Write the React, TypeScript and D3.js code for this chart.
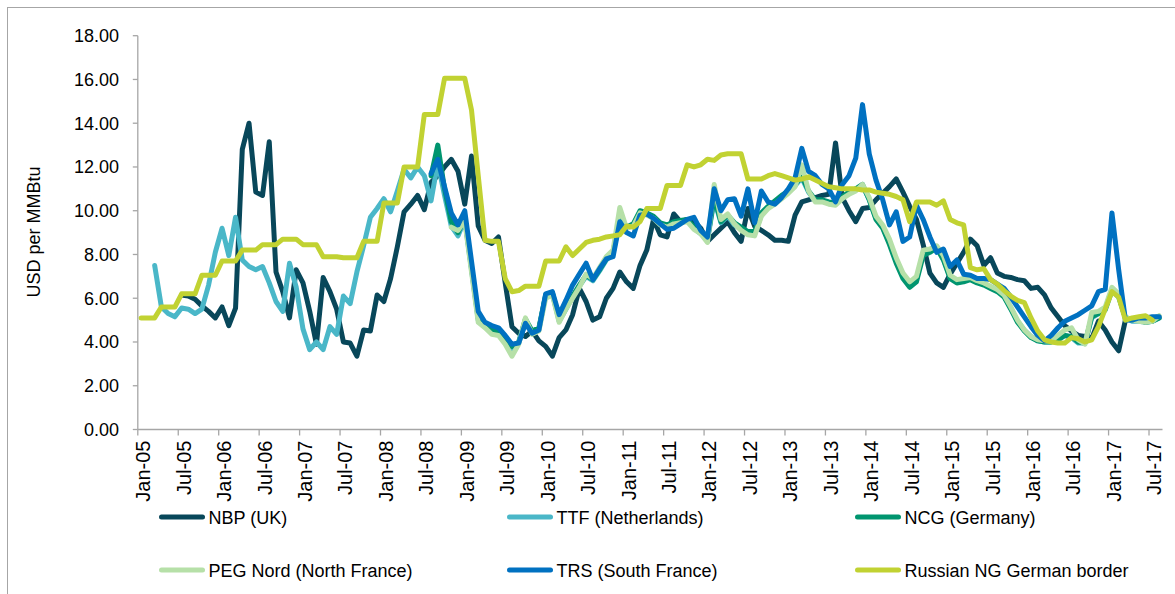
import React from "react";
import * as d3 from "d3";

// Monthly categories Jan-05 .. Aug-17 (152 months)
const categories: Date[] = d3.timeMonth.range(new Date(2005, 0, 1), new Date(2017, 8, 1));

const xTickLabels = [
  "Jan-05", "Jul-05", "Jan-06", "Jul-06", "Jan-07", "Jul-07", "Jan-08", "Jul-08",
  "Jan-09", "Jul-09", "Jan-10", "Jul-10", "Jan-11", "Jul-11", "Jan-12", "Jul-12",
  "Jan-13", "Jul-13", "Jan-14", "Jul-14", "Jan-15", "Jul-15", "Jan-16", "Jul-16",
  "Jan-17", "Jul-17",
];
const yTicks = [0, 2, 4, 6, 8, 10, 12, 14, 16, 18];
const yTitle = "USD per MMBtu";

const N = null;

const nbp = [
  N, N, N, N, N, N, 6.15, 6.1, 5.95, 5.65, 5.4, 5.1,
  5.6, 4.75, 5.55, 12.8, 14.0, 10.85, 10.7, 13.15, 7.2, 6.3, 5.1, 7.3,
  6.7, 5.4, 3.9, 6.95, 6.3, 5.5, 4.0, 3.95, 3.35, 4.55, 4.5, 6.15,
  5.85, 6.9, 8.35, 9.95, 10.3, 10.7, 10.05, 11.3, 11.6, 12.0, 12.35, 11.8,
  10.3, 12.5, 9.3, 8.65, 8.5, 8.8, 6.7, 4.7, 4.4, 4.25, 4.5, 4.05,
  3.8, 3.35, 4.2, 4.55, 5.25, 6.45, 5.85, 5.0, 5.15, 6.0, 6.45, 7.2,
  6.75, 6.45, 7.5, 8.2, 9.6, 8.9, 8.8, 9.85, 9.5, 9.6, 9.5, 9.2,
  8.6, 8.9, 9.2, 9.5, 9.0, 8.6, 10.1, 9.3, 9.1, 8.9, 8.65, 8.65,
  8.6, 9.8, 10.4, 10.5, 10.6, 10.7, 10.75, 13.1, 10.6, 10.0, 9.5, 10.1,
  10.15, 10.5, 10.8, 11.1, 11.45, 10.85, 10.2, 9.6, 8.45, 7.15, 6.7, 6.5,
  7.1, 7.6, 8.1, 8.7, 8.4, 7.5, 7.85, 7.15, 7.0, 6.95, 6.85, 6.8,
  6.45, 6.5, 6.15, 5.55, 5.15, 4.75, 4.5, 4.3, 4.25, 4.15, 4.95, 4.55,
  4.0, 3.6, 5.0, 5.05, 5.05, 5.0, 5.1, 5.15,
];

const ttf = [
  N, N, 7.5, 5.6, 5.3, 5.15, 5.55, 5.5, 5.3, 5.5, 6.6, 8.1,
  9.2, 7.95, 9.7, 7.75, 7.45, 7.3, 7.45, 6.7, 5.85, 5.4, 7.6, 6.5,
  4.6, 3.65, 4.0, 3.65, 4.7, 4.35, 6.1, 5.75, 7.2, 8.4, 9.7, 10.1,
  10.55, 9.95, 10.9, 11.9, 11.5, 12.0, 11.6, 10.45, 12.2, 10.7, 9.3, 8.85,
  9.6, 7.3, 5.0, 4.8, 4.5, 4.45, 4.15, 3.7, 3.95, 4.95, 4.45, 4.6,
  6.1, 6.2, 4.95, 5.5, 6.05, 6.55, 7.0, 6.8, 7.25, 7.75, 8.05, 9.6,
  9.2, 9.35, 9.95, 9.85, 9.7, 9.4, 9.3, 9.45, 9.5, 9.55, 9.2, 8.95,
  8.65, 10.5, 9.45, 9.75, 9.35, 9.15, 8.95, 8.95, 9.8, 10.15, 10.35, 10.6,
  10.85, 11.15, 11.5, 10.85, 10.45, 10.45, 10.35, 10.3, 10.6, 10.8, 10.95, 11.15,
  10.5, 9.65, 9.25, 8.55, 7.7, 7.0, 6.6, 6.85, 8.05, 8.15, 8.35, 7.8,
  6.95, 6.75, 6.8, 6.9, 6.75, 6.65, 6.5, 6.35, 6.1, 5.55, 4.95, 4.55,
  4.25, 4.05, 4.0, 4.0, 4.1, 4.3, 4.2, 3.95, 3.95, 5.1, 5.3, 5.45,
  6.35, 6.05, 5.1, 4.95, 4.95, 4.9, 4.95, 5.1,
];

const ncg = [
  N, N, N, N, N, N, N, N, N, N, N, N,
  N, N, N, N, N, N, N, N, N, N, N, N,
  N, N, N, N, N, N, N, N, N, N, N, N,
  N, N, N, N, N, N, N, 11.6, 13.0, 11.0, 9.5, 9.0,
  9.7, 7.4, 5.1, 4.85, 4.55, 4.5, 4.2, 3.8, 4.0, 5.05, 4.5, 4.65,
  6.15, 6.25, 5.05, 5.55, 6.1, 6.6, 7.05, 6.85, 7.3, 7.8, 8.1, 9.7,
  9.25, 9.4, 10.0, 9.9, 9.75, 9.45, 9.35, 9.5, 9.55, 9.6, 9.25, 9.0,
  8.7, 10.6, 9.5, 9.8, 9.45, 9.25, 9.05, 9.05, 9.9, 10.2, 10.45, 10.7,
  10.9, 11.2, 11.6, 10.9, 10.5, 10.5, 10.4, 10.35, 10.65, 10.85, 11.0, 11.2,
  10.5, 9.6, 9.2, 8.45, 7.6, 6.9, 6.5, 6.75, 7.95, 8.1, 8.3, 7.75,
  6.9, 6.7, 6.75, 6.85, 6.7, 6.6, 6.45, 6.3, 6.05, 5.5, 4.9, 4.5,
  4.2, 4.05, 4.0, 4.0, 4.1, 4.3, 4.25, 4.0, 3.95, 5.15, 5.3, 5.5,
  6.4, 6.1, 5.1, 5.0, 5.0, 4.9, 4.95, 5.1,
];

const peg = [
  N, N, N, N, N, N, N, N, N, N, N, N,
  N, N, N, N, N, N, N, N, N, N, N, N,
  N, N, N, N, N, N, N, N, N, N, N, N,
  N, N, N, N, N, N, N, N, N, N, 9.25, 9.1,
  9.55, 7.2, 4.9, 4.65, 4.35, 4.3, 3.9, 3.35, 3.9, 5.1, 4.35, 4.5,
  6.0, 6.15, 4.9, 5.5, 6.0, 6.5, 7.1, 6.9, 7.4, 7.9, 8.2, 10.15,
  9.2, 9.3, 9.9, 9.8, 9.65, 9.35, 9.25, 9.4, 9.45, 9.5, 9.15, 8.95,
  8.55, 11.2, 9.6, 9.85, 9.4, 9.1, 8.9, 8.85, 9.75, 10.1, 10.3, 10.55,
  10.8, 11.1, 12.1, 10.9, 10.4, 10.4, 10.3, 10.25, 10.55, 10.75, 10.9, 11.2,
  10.6, 9.75, 9.35, 8.7, 7.85, 7.15, 6.75, 7.0, 8.2, 8.25, 8.4, 7.95,
  7.05, 6.85, 6.9, 6.95, 6.8, 6.7, 6.55, 6.4, 6.15, 5.6, 5.0, 4.55,
  4.25, 4.1, 4.05, 4.05, 4.3, 4.55, 4.65, 4.1, 3.9, 5.35, 5.4, 5.6,
  6.5, 6.2, 5.15, 5.0, 4.95, 4.9, 4.95, 5.2,
];

const trs = [
  N, N, N, N, N, N, N, N, N, N, N, N,
  N, N, N, N, N, N, N, N, N, N, N, N,
  N, N, N, N, N, N, N, N, N, N, N, N,
  N, N, N, N, N, N, N, 11.7, 12.35, 11.1, 9.9, 9.35,
  10.0, 7.7, 5.4, 4.9, 4.75, 4.65, 4.3, 3.9, 3.95, 4.85, 4.4, 4.55,
  6.2, 6.3, 5.25, 5.9, 6.6, 7.1, 7.6, 6.85, 7.35, 7.8, 7.9, 9.5,
  9.0, 8.85, 9.8, 9.85, 9.65, 9.4, 9.15, 9.2, 9.4, 9.6, 9.7, 9.1,
  8.8, 11.0, 10.0, 10.5, 10.55, 9.75, 11.0, 9.45, 10.9, 10.4, 10.3, 10.6,
  11.0, 11.5, 12.85, 11.8, 11.6, 11.2, 11.0, 10.4, 11.2, 11.6, 12.4, 14.85,
  12.6, 11.4, 10.5, 9.35, 9.95, 8.6, 8.8, 10.25, 9.6, 8.8, 8.1, 8.25,
  7.45, 7.75, 7.1, 7.05, 6.9, 6.9, 6.85, 6.65, 6.45, 6.05, 5.6, 5.15,
  4.7, 4.3, 4.05, 4.3, 4.65, 4.95, 5.1, 5.25, 5.45, 5.65, 6.3, 6.4,
  9.9, 7.3, 5.0, 5.0, 5.1, 5.1, 5.15, 5.15,
];

const russian = [
  5.1, 5.1, 5.1, 5.6, 5.6, 5.6, 6.2, 6.2, 6.2, 7.05, 7.05, 7.05,
  7.7, 7.7, 7.7, 8.2, 8.2, 8.2, 8.45, 8.45, 8.45, 8.7, 8.7, 8.7,
  8.45, 8.45, 8.45, 7.9, 7.9, 7.9, 7.85, 7.85, 7.85, 8.6, 8.6, 8.6,
  10.35, 10.35, 10.35, 12.0, 12.0, 12.0, 14.4, 14.4, 14.4, 16.05, 16.05, 16.05,
  16.05, 14.6, 11.6, 8.65, 8.6, 8.6, 6.9, 6.3, 6.35, 6.55, 6.55, 6.55,
  7.7, 7.7, 7.7, 8.35, 7.95, 8.25, 8.55, 8.65, 8.7, 8.8, 8.85, 8.9,
  9.3, 9.25, 9.5, 10.1, 10.1, 10.1, 11.15, 11.15, 11.15, 12.1, 12.0, 12.1,
  12.35, 12.3, 12.55, 12.6, 12.6, 12.6, 11.45, 11.45, 11.45, 11.6, 11.7, 11.6,
  11.5, 11.4, 11.45, 11.55, 11.4, 11.25, 11.1, 11.05, 11.0, 11.0, 11.0, 10.95,
  10.95, 10.85, 10.8, 10.75, 10.65, 10.5, 9.5, 10.4, 10.4, 10.4, 10.25, 10.45,
  9.6, 9.45, 9.35, 7.4, 7.3, 7.35, 6.85, 6.65, 6.35, 6.1, 5.9, 5.8,
  5.1, 4.5, 4.1, 4.0, 3.95, 3.95, 4.2, 4.15, 4.0, 4.1, 4.7, 5.5,
  6.3, 6.05, 5.0, 5.1, 5.15, 5.2, 5.0, N,
];

const seriesNames = [
  "NBP (UK)",
  "TTF (Netherlands)",
  "NCG (Germany)",
  "PEG Nord (North France)",
  "TRS (South France)",
  "Russian NG German border",
];
const seriesColors = ["#08475a", "#4ab7c8", "#00956f", "#b6e0a8", "#0071c1", "#c1d232"];
const seriesData = [nbp, ttf, ncg, peg, trs, russian];

const FONT = "'Liberation Sans', Arial, sans-serif";

export default function App() {
  const W = 1175;
  const H = 594;
  const x0 = 137.8;
  const x1 = 1162.5;
  const yBase = 429.5;
  const yTop = 35.7;

  const x = d3
    .scaleBand<number>()
    .domain(d3.range(categories.length))
    .range([x0, x1])
    .padding(0);
  const bw = x.bandwidth();
  const y = d3.scaleLinear().domain([0, 18]).range([yBase, yTop]);

  const line = d3
    .line<number | null>()
    .defined((d) => d != null)
    .x((_d, i) => (x(i) as number) + bw / 2)
    .y((d) => y(d as number));

  const tickIdx = xTickLabels.map((_, k) => k * 6);

  const legendCols = [159, 507, 855];
  const legendRows = [517, 570];

  return (
    <svg
      width={W}
      height={H}
      style={{ position: "absolute", left: 0, top: 0, background: "#fff" }}
      fontFamily={FONT}
    >
      <rect x={7.5} y={7.5} width={1200} height={620} fill="#fff" stroke="#a6a6a6" strokeWidth={1} />

      {/* y axis */}
      <line x1={x0} x2={x0} y1={yTop} y2={yBase} stroke="#a6a6a6" strokeWidth={1.3} />
      {yTicks.map((t) => (
        <g key={t}>
          <line x1={x0 - 5} x2={x0} y1={y(t)} y2={y(t)} stroke="#a6a6a6" strokeWidth={1.3} />
          <text x={119} y={y(t) + 6.3} textAnchor="end" fontSize={18} fill="#000">
            {t.toFixed(2)}
          </text>
        </g>
      ))}
      <text
        transform={`translate(40, 232) rotate(-90)`}
        textAnchor="middle"
        fontSize={18}
        fill="#000"
      >
        {yTitle}
      </text>

      {/* x axis */}
      <line x1={x0} x2={x1} y1={yBase} y2={yBase} stroke="#a6a6a6" strokeWidth={1.3} />
      {tickIdx.map((k, j) => {
        const tx = x(k) as number;
        return (
          <g key={k}>
            <line x1={tx} x2={tx} y1={yBase} y2={yBase + 6} stroke="#a6a6a6" strokeWidth={1.3} />
            <text
              transform={`translate(${tx + bw / 2 + 9}, ${yBase + 11}) rotate(-90)`}
              textAnchor="end"
              fontSize={20}
              fill="#000"
            >
              {xTickLabels[j]}
            </text>
          </g>
        );
      })}

      {/* series */}
      {seriesData.map((s, si) => (
        <path
          key={si}
          d={line(s) || ""}
          fill="none"
          stroke={seriesColors[si]}
          strokeWidth={5}
          strokeLinejoin="round"
          strokeLinecap="round"
        />
      ))}

      {/* legend */}
      {seriesNames.map((name, si) => {
        const lx = legendCols[si % 3];
        const ly = legendRows[Math.floor(si / 3)];
        return (
          <g key={name}>
            <line
              x1={lx + 2.5}
              x2={lx + 43.5}
              y1={ly}
              y2={ly}
              stroke={seriesColors[si]}
              strokeWidth={5}
              strokeLinecap="round"
            />
            <text x={lx + 49.5} y={ly + 6.5} fontSize={18} fill="#000">
              {name}
            </text>
          </g>
        );
      })}
    </svg>
  );
}
